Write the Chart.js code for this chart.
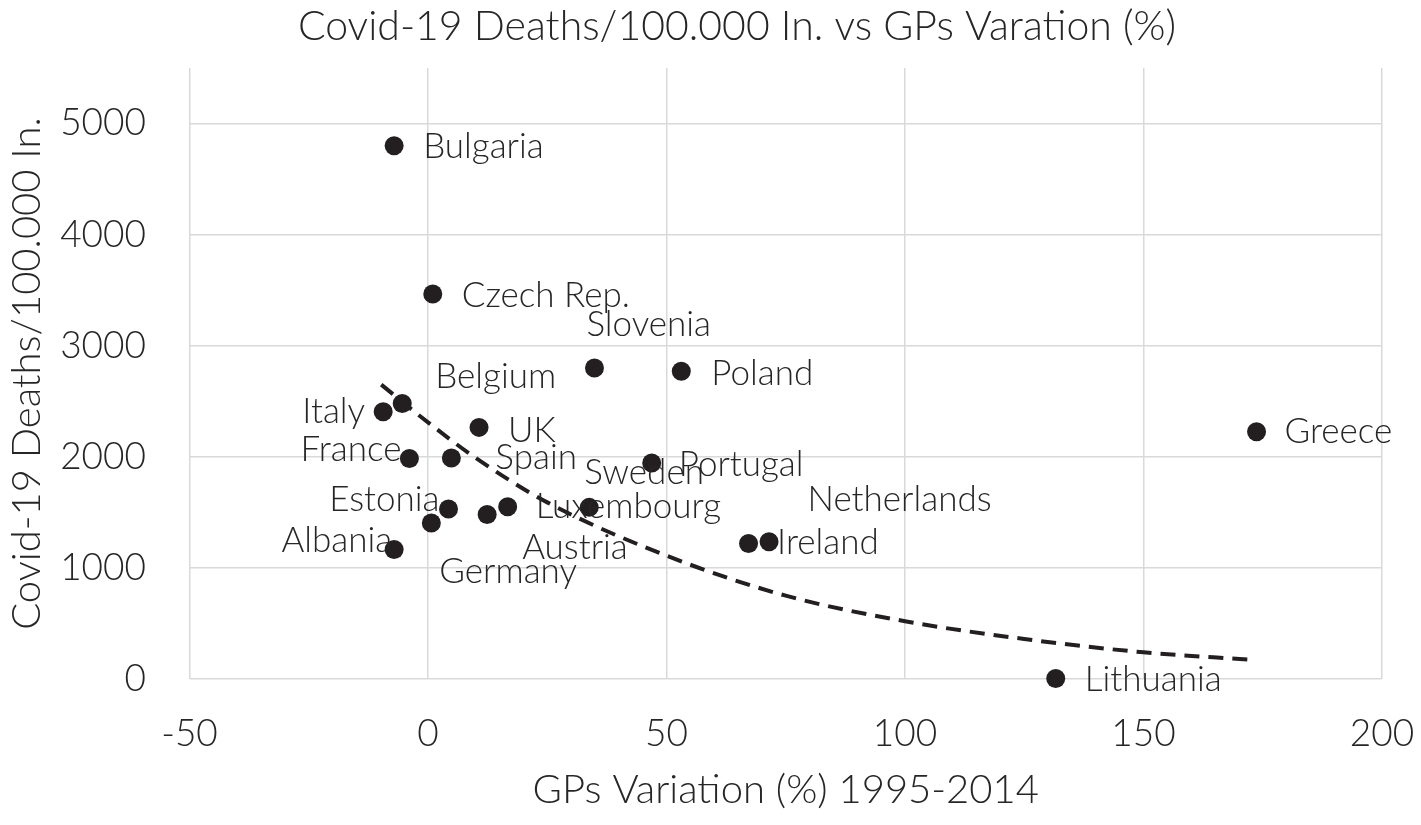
<!DOCTYPE html>
<html>
<head>
<meta charset="utf-8">
<title>Covid-19 Deaths vs GPs Variation</title>
<script src="https://cdn.jsdelivr.net/npm/chart.js@4.4.1/dist/chart.umd.min.js"></script>
<style>
  html, body { margin: 0; padding: 0; background: #fff; }
  #wrap { width: 1421px; height: 825px; }
</style>
</head>
<body>
<div id="wrap"><canvas id="chart" width="1421" height="825"></canvas></div>
<script>
// Countries and values
const countries = ['Bulgaria','Czech Rep.','Slovenia','Poland','Belgium','Italy','UK','Greece','France','Spain',
  'Portugal','Sweden','Luxembourg','Estonia','Austria','Germany','Netherlands','Ireland','Albania','Lithuania'];
const gpsVariation = [-7.1, 1.0, 34.9, 53.1, -5.4, -9.4, 10.7, 173.7, -3.9, 4.9,
  46.9, 33.8, 16.7, 4.3, 12.4, 0.7, 67.2, 71.5, -7.1, 131.6];
const deaths = [4800, 3465, 2800, 2770, 2480, 2405, 2265, 2225, 1985, 1990,
  1945, 1545, 1550, 1530, 1480, 1405, 1220, 1235, 1165, 5];

// Dashed trend line
const trendX = [-9.8, 0, 10, 25, 50, 75, 100, 125, 150, 172];
const trendY = [2650, 2310, 1990, 1590, 1110, 750, 520, 360, 240, 175];

// Axis ticks
const xTicks = [-50, 0, 50, 100, 150, 200];
const yTicks = [0, 1000, 2000, 3000, 4000, 5000];

const chartTitle = 'Covid-19 Deaths/100.000 In. vs GPs Varation (%)';

// Label placement (pixel offset from the dot, text alignment) like the moved Excel data labels
const labelPlacement = [
  [29, 1, 'left'], [29, 2, 'left'], [-8, -43, 'left'], [30, 2, 'left'], [33, -27, 'left'],
  [-18, 0, 'right'], [29, 3, 'left'], [28, 0, 'left'], [-8, -9, 'right'], [44, 0, 'left'],
  [27, 2, 'left'], [-5, -35, 'left'], [28, 0, 'left'], [-9, -9, 'right'], [35, 33, 'left'],
  [8, 49, 'left'], [59, -44, 'left'], [8, 1, 'left'], [-2, -9, 'right'], [29, 1, 'left']
];

const INK = '#231f20';
const TEXT = '#262626';
const GRID = '#d9d9d9';
const FONT = 'Lato, "Open Sans", sans-serif';

Chart.defaults.font.family = FONT;
Chart.defaults.color = TEXT;

// draws the country names next to the dots
const pointLabels = {
  id: 'pointLabels',
  afterDatasetsDraw(chart){
    const meta = chart.getDatasetMeta(0);
    const ctx = chart.ctx;
    ctx.save();
    ctx.font = '300 35px ' + FONT;
    ctx.fillStyle = TEXT;
    ctx.textBaseline = 'middle';
    meta.data.forEach((pt, i) => {
      const p = labelPlacement[i];
      ctx.textAlign = p[2];
      ctx.fillText(countries[i], pt.x + p[0], pt.y + p[1]);
    });
    ctx.restore();
  }
};

// chart title, sits a bit left of the plot centre as in the original
const topTitle = {
  id: 'topTitle',
  afterDraw(chart){
    const ctx = chart.ctx;
    ctx.save();
    ctx.font = '300 41px ' + FONT;
    ctx.fillStyle = TEXT;
    ctx.textAlign = 'center';
    ctx.textBaseline = 'middle';
    ctx.fillText(chartTitle, 737, 27);
    ctx.restore();
  }
};

const points = gpsVariation.map((x, i) => ({ x, y: deaths[i] }));
const trend = trendX.map((x, i) => ({ x, y: trendY[i] }));

new Chart(document.getElementById('chart'), {
  type: 'scatter',
  data: {
    datasets: [{
      label: 'Countries',
      data: points,
      pointRadius: 9.5,
      pointHoverRadius: 9.5,
      pointBackgroundColor: INK,
      pointBorderWidth: 0,
      clip: false,
      order: 1
    }, {
      type: 'line',
      label: 'Trend',
      data: trend,
      borderColor: INK,
      borderWidth: 4,
      borderDash: [15, 9],
      pointRadius: 0,
      fill: false,
      cubicInterpolationMode: 'monotone',
      clip: false,
      order: 2
    }]
  },
  options: {
    responsive: false,
    animation: false,
    layout: { padding: { left: 0, right: 39, top: 68, bottom: 0 } },
    plugins: {
      legend: { display: false },
      tooltip: { enabled: false },
      title: { display: false }
    },
    scales: {
      x: {
        type: 'linear',
        min: xTicks[0],
        max: xTicks[xTicks.length - 1],
        afterBuildTicks(scale){ scale.ticks = xTicks.map(v => ({ value: v })); },
        afterFit(scale){ scale.height = 146; scale.paddingLeft = 0; scale.paddingRight = 0; },
        grid: { color: GRID, lineWidth: 1.5, drawTicks: false },
        border: { display: false },
        ticks: { font: { size: 37, weight: '300' }, color: TEXT, padding: 33, maxRotation: 0,
          callback: v => String(v) },
        title: {
          display: true,
          text: 'GPs Variation (%) 1995-2014',
          color: TEXT,
          font: { size: 40, weight: '300' },
          padding: { top: 0, bottom: 11 }
        }
      },
      y: {
        type: 'linear',
        min: 0,
        max: 5500,
        afterBuildTicks(scale){ scale.ticks = yTicks.map(v => ({ value: v })); },
        afterFit(scale){ scale.width = 189.5; scale.paddingTop = 0; scale.paddingBottom = 0; },
        grid: { color: GRID, lineWidth: 1.5, drawTicks: false },
        border: { display: false },
        ticks: { font: { size: 37, weight: '300' }, color: TEXT, padding: 43.5,
          callback: v => String(v) },
        title: {
          display: true,
          text: 'Covid-19 Deaths/100.000 In.',
          color: TEXT,
          font: { size: 40, weight: '300' },
          padding: { top: 3, bottom: 0 }
        }
      }
    }
  },
  plugins: [pointLabels, topTitle]
});
</script>
</body>
</html>
